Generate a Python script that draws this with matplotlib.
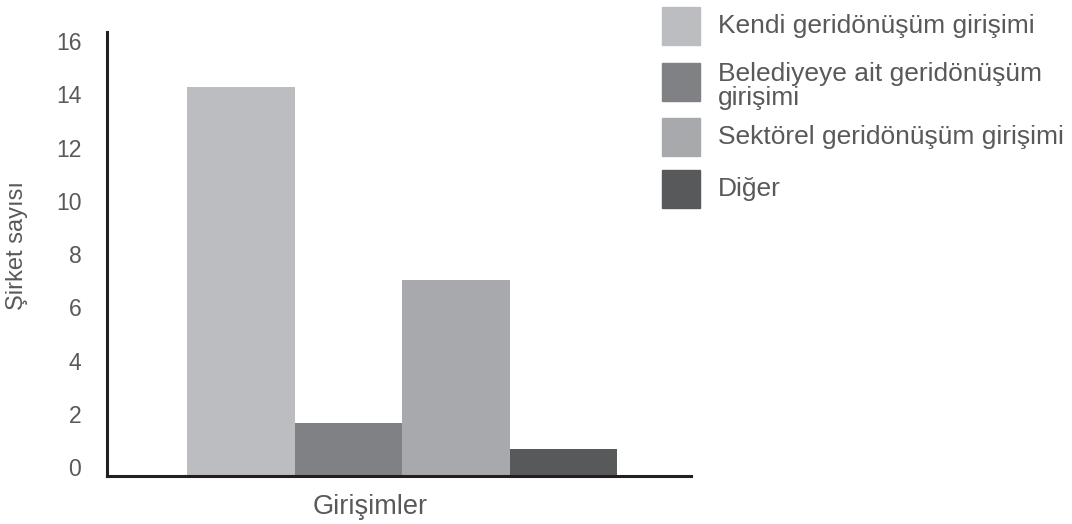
import numpy as np
import matplotlib.pyplot as plt
from matplotlib.patches import Rectangle

plt.rcParams['font.family'] = ['Liberation Sans', 'DejaVu Sans']

categories = ["Kendi geridönüşüm girişimi", "Belediyeye ait geridönüşüm\ngirişimi",
              "Sektörel geridönüşüm girişimi", "Diğer"]
values = [14.6, 2.0, 7.35, 1.0]
colors = ["#bcbdc1", "#808185", "#a8a9ad", "#58595b"]
yticks = [0, 2, 4, 6, 8, 10, 12, 14, 16]

txt = "#58595b"

fig = plt.figure(figsize=(10.72, 5.24), dpi=100)
ax = fig.add_axes([107/1072, 1-476/524, 584/1072, 444/524])

x = np.arange(len(values))
ax.bar(x, values, width=1.0, color=colors, zorder=1)

ax.set_xlim(-1.247, 4.186)
ax.set_ylim(0, 16.68)
ax.set_yticks(yticks)
ax.set_xticks([])
ax.tick_params(axis='y', length=0, pad=18.5, labelsize=16.5, labelcolor=txt)
for lab in ax.get_yticklabels():
    lab.set_va('baseline')

for s in ['top', 'right']:
    ax.spines[s].set_visible(False)
for s in ['left', 'bottom']:
    ax.spines[s].set_color('#231f20')
    ax.spines[s].set_linewidth(2.2)
    ax.spines[s].set_zorder(3)

fig.text(370/1072, 1-507/524, "Girişimler", ha='center', va='center',
         fontsize=19.5, color=txt)
fig.text(17/1072, 1-245/524, "Şirket sayısı", ha='center', va='center',
         rotation=90, fontsize=17, color=txt)

# legend drawn by hand to match the stacked layout
patch_tops = [7, 63, 118, 170]
for lab, col, top in zip(categories, colors, patch_tops):
    fig.patches.append(Rectangle((662/1072, 1-(top+38)/524), 38/1072, 38/524,
                                 transform=fig.transFigure, color=col))
    yc = top + 19
    if "\n" in lab:
        yc = top + 23
    fig.text(718/1072, 1-yc/524, lab, ha='left', va='center', fontsize=19,
             color=txt, linespacing=1.0)

fig.savefig("out.png", dpi=100)
